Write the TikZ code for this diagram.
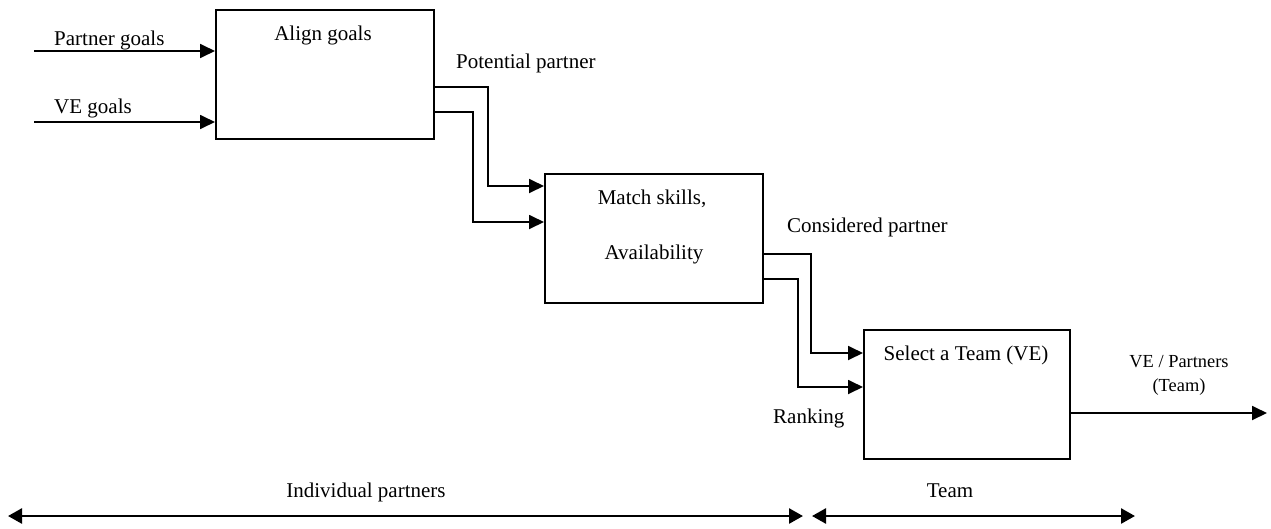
\documentclass[tikz,border=0pt]{standalone}
\usepackage{fontspec}
\setmainfont{Liberation Serif}
\usetikzlibrary{arrows.meta}
\begin{document}
\begin{tikzpicture}[x=1pt,y=-1pt,
  proc/.style={draw, line width=1.8pt, inner sep=0pt, anchor=north west},
  flow/.style={line width=1.8pt, -{Triangle[length=15pt,width=14pt]}},
  span/.style={line width=2.6pt, {Triangle[length=14pt,width=15pt]}-{Triangle[length=14pt,width=15pt]}},
  lbl/.style={inner sep=0pt, anchor=base, font=\fontsize{21}{25}\selectfont},
  lbls/.style={inner sep=0pt, anchor=base, font=\fontsize{18.4}{22}\selectfont}]
\useasboundingbox (0,0) rectangle (1271,528);

% activity boxes
\node[proc, minimum width=218pt, minimum height=129pt] (align) at (215,9) {};
\node[proc, minimum width=218pt, minimum height=129pt] (match) at (544,173) {};
\node[proc, minimum width=206pt, minimum height=129pt] (select) at (863,329) {};

% box titles
\node[lbl] (talign) at (323,40) {Align goals};
\node[lbl] (tmatch1) at (652,204) {Match skills,};
\node[lbl] (tmatch2) at (654,259) {Availability};
\node[lbl] (tselect) at (966,360) {Select a Team (VE)};

% inputs of the first box
\coordinate (pgin) at (34,51);
\coordinate (vein) at (34,122);
\draw[flow] (pgin) -- (align.west |- pgin);
\draw[flow] (vein) -- (align.west |- vein);
\node[lbl, anchor=base west] (lpg) at (54,45) {Partner goals};
\node[lbl, anchor=base west] (lve) at (54,113) {VE goals};

% first box to second box
\draw[flow] (align.east |- 0,87) -| (488,186) -- (match.west |- 0,186);
\draw[flow] (align.east |- 0,112) -| (473,222) -- (match.west |- 0,222);
\node[lbl, anchor=base west] (lpot) at (456,68) {Potential partner};

% second box to third box
\draw[flow] (match.east |- 0,254) -| (811,353) -- (select.west |- 0,353);
\draw[flow] (match.east |- 0,279) -| (798,387) -- (select.west |- 0,387);
\node[lbl, anchor=base west] (lcons) at (787,232) {Considered partner};
\node[lbl, anchor=base west] (lrank) at (773,423) {Ranking};

% result
\coordinate (out) at (1267,413);
\draw[flow] (select.east |- out) -- (out);
\node[lbls] (lout1) at (1179,367) {VE / Partners};
\node[lbls] (lout2) at (1179,391) {(Team)};

% scope spans
\coordinate (s1a) at (8,516);
\coordinate (s1b) at (803,516);
\coordinate (s2a) at (812,516);
\coordinate (s2b) at (1135,516);
\draw[span] (s1a) -- (s1b);
\draw[span] (s2a) -- (s2b);
\node[lbl] (lind) at (366,497) {Individual partners};
\node[lbl] (lteam) at (950,497) {Team};
\end{tikzpicture}
\end{document}
